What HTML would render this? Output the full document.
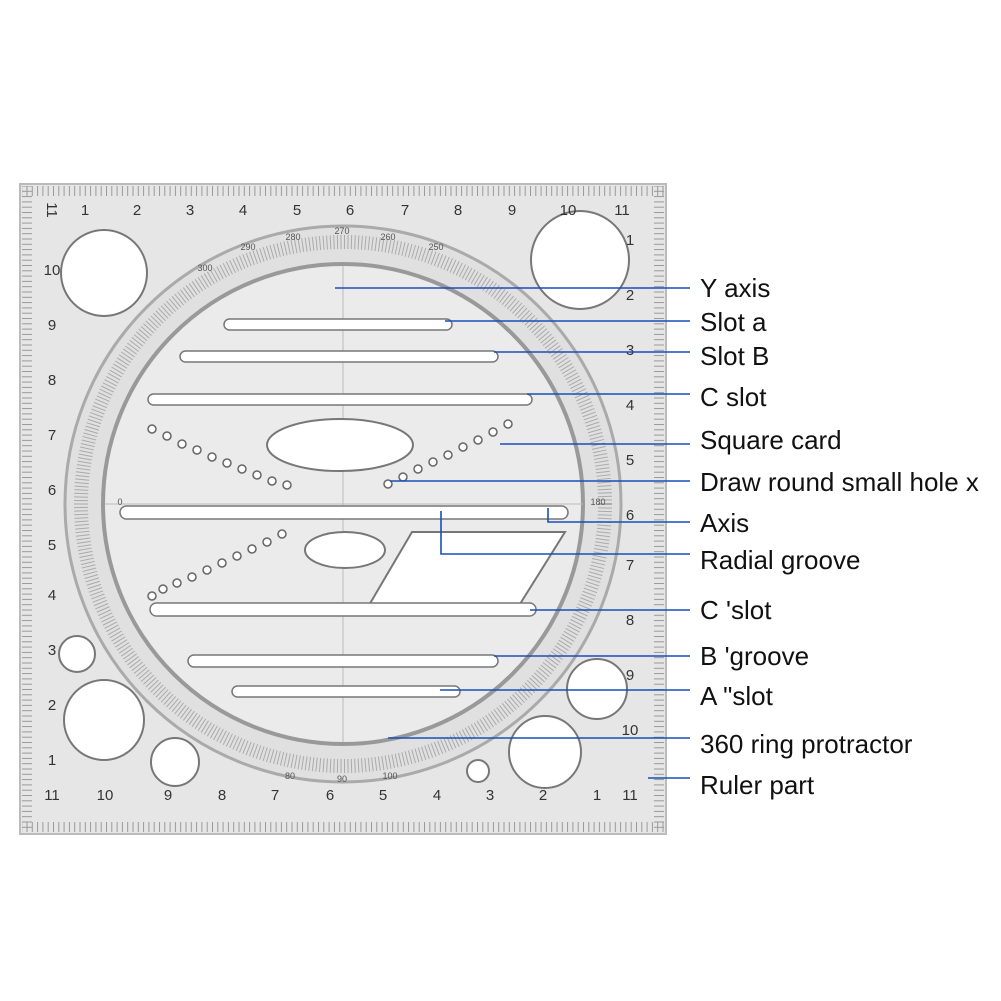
<!DOCTYPE html>
<html><head><meta charset="utf-8"><style>
html,body{margin:0;padding:0;background:#fff;}
svg{display:block;}
.l{font-family:"Liberation Sans",sans-serif;font-size:26px;fill:#111;}
.n{font-family:"Liberation Sans",sans-serif;font-size:15px;fill:#333;text-anchor:middle;}
.s{font-family:"Liberation Sans",sans-serif;font-size:9px;fill:#555;text-anchor:middle;}
</style></head><body>
<svg width="1001" height="1001" viewBox="0 0 1001 1001" xmlns="http://www.w3.org/2000/svg">
<defs>
<pattern id="tk" width="5.3" height="10" patternUnits="userSpaceOnUse"><rect x="0" y="0" width="1" height="10" fill="#999"/></pattern>
<pattern id="tkv" width="10" height="5.3" patternUnits="userSpaceOnUse"><rect x="0" y="0" width="10" height="1" fill="#999"/></pattern>
</defs>
<rect x="20" y="184" width="646" height="650" fill="#e6e6e6" stroke="#bbb" stroke-width="2"/>
<rect x="22" y="186" width="642" height="10" fill="url(#tk)"/>
<rect x="22" y="822" width="642" height="10" fill="url(#tk)"/>
<rect x="22" y="186" width="10" height="646" fill="url(#tkv)"/>
<rect x="654" y="186" width="10" height="646" fill="url(#tkv)"/>
<circle cx="343" cy="504" r="278" fill="#e0e0e0" stroke="#aaa" stroke-width="3"/>
<circle cx="343" cy="504" r="262" fill="none" stroke="#aaa" stroke-width="14" stroke-dasharray="1 2.5"/>
<circle cx="343" cy="504" r="240" fill="#ebebeb" stroke="#999" stroke-width="4"/>
<line x1="343" y1="266" x2="343" y2="742" stroke="#bbb"/>
<line x1="105" y1="504" x2="583" y2="504" stroke="#bbb"/>
<g fill="#fff" stroke="#777" stroke-width="2">
<circle cx="104" cy="273" r="43"/>
<circle cx="580" cy="260" r="49"/>
<circle cx="104" cy="720" r="40"/>
<circle cx="77" cy="654" r="18"/>
<circle cx="175" cy="762" r="24"/>
<circle cx="545" cy="752" r="36"/>
<circle cx="597" cy="689" r="30"/>
<circle cx="478" cy="771" r="11"/>
<ellipse cx="340" cy="445" rx="73" ry="26"/>
<ellipse cx="345" cy="550" rx="40" ry="18"/>
<polygon points="365,612 412,532 565,532 515,612"/>
</g>
<g fill="#fff" stroke="#777" stroke-width="1.5">
<rect x="224" y="319" width="228" height="11" rx="5.5"/>
<rect x="180" y="351" width="318" height="11" rx="5.5"/>
<rect x="148" y="394" width="384" height="11" rx="5.5"/>
<rect x="120" y="506" width="448" height="13" rx="6.5"/>
<rect x="150" y="603" width="386" height="13" rx="6.5"/>
<rect x="188" y="655" width="310" height="12" rx="6"/>
<rect x="232" y="686" width="228" height="11" rx="5.5"/>
</g>
<g fill="#fff" stroke="#666" stroke-width="1.5">
<circle cx="152" cy="429" r="4"/><circle cx="167" cy="436" r="4"/><circle cx="182" cy="444" r="4"/><circle cx="197" cy="450" r="4"/><circle cx="212" cy="457" r="4"/><circle cx="227" cy="463" r="4"/><circle cx="242" cy="469" r="4"/><circle cx="257" cy="475" r="4"/><circle cx="272" cy="481" r="4"/><circle cx="287" cy="485" r="4"/>
<circle cx="388" cy="484" r="4"/><circle cx="403" cy="477" r="4"/><circle cx="418" cy="469" r="4"/><circle cx="433" cy="462" r="4"/><circle cx="448" cy="455" r="4"/><circle cx="463" cy="447" r="4"/><circle cx="478" cy="440" r="4"/><circle cx="493" cy="432" r="4"/><circle cx="508" cy="424" r="4"/>
<circle cx="282" cy="534" r="4"/><circle cx="267" cy="542" r="4"/><circle cx="252" cy="549" r="4"/><circle cx="237" cy="556" r="4"/><circle cx="222" cy="563" r="4"/><circle cx="207" cy="570" r="4"/><circle cx="192" cy="577" r="4"/><circle cx="177" cy="583" r="4"/><circle cx="163" cy="589" r="4"/><circle cx="152" cy="596" r="4"/>
</g>
<g class="n">
<text x="52" y="215" transform="rotate(90 52 210)">11</text>
<text x="85" y="215">1</text><text x="137" y="215">2</text><text x="190" y="215">3</text><text x="243" y="215">4</text><text x="297" y="215">5</text><text x="350" y="215">6</text><text x="405" y="215">7</text><text x="458" y="215">8</text><text x="512" y="215">9</text><text x="568" y="215">10</text><text x="622" y="215">11</text>
<text x="52" y="800">11</text><text x="105" y="800">10</text><text x="168" y="800">9</text><text x="222" y="800">8</text><text x="275" y="800">7</text><text x="330" y="800">6</text><text x="383" y="800">5</text><text x="437" y="800">4</text><text x="490" y="800">3</text><text x="543" y="800">2</text><text x="597" y="800">1</text><text x="630" y="800">11</text>
<text x="52" y="275">10</text><text x="52" y="330">9</text><text x="52" y="385">8</text><text x="52" y="440">7</text><text x="52" y="495">6</text><text x="52" y="550">5</text><text x="52" y="600">4</text><text x="52" y="655">3</text><text x="52" y="710">2</text><text x="52" y="765">1</text>
<text x="630" y="245">1</text><text x="630" y="300">2</text><text x="630" y="355">3</text><text x="630" y="410">4</text><text x="630" y="465">5</text><text x="630" y="520">6</text><text x="630" y="570">7</text><text x="630" y="625">8</text><text x="630" y="680">9</text><text x="630" y="735">10</text>
</g>
<g class="s">
<text x="342" y="234">270</text><text x="293" y="240">280</text><text x="388" y="240">260</text><text x="436" y="250">250</text><text x="248" y="250">290</text><text x="205" y="271">300</text><text x="120" y="505">0</text><text x="598" y="505">180</text><text x="342" y="782">90</text><text x="390" y="779">100</text><text x="290" y="779">80</text>
</g>
<g stroke="#1a4fb5" stroke-width="1.6" fill="none">
<line x1="335" y1="288" x2="690" y2="288"/>
<line x1="445" y1="321" x2="690" y2="321"/>
<line x1="494" y1="352" x2="690" y2="352"/>
<line x1="527" y1="394" x2="690" y2="394"/>
<line x1="500" y1="444" x2="690" y2="444"/>
<line x1="390" y1="481" x2="690" y2="481"/>
<polyline points="548,508 548,522 690,522"/>
<polyline points="441,511 441,554 690,554"/>
<line x1="530" y1="610" x2="690" y2="610"/>
<line x1="494" y1="656" x2="690" y2="656"/>
<line x1="440" y1="690" x2="690" y2="690"/>
<line x1="388" y1="738" x2="690" y2="738"/>
<line x1="648" y1="778" x2="690" y2="778"/>
</g>
<g class="l">
<text x="700" y="297">Y axis</text>
<text x="700" y="331">Slot a</text>
<text x="700" y="365">Slot B</text>
<text x="700" y="406">C slot</text>
<text x="700" y="449">Square card</text>
<text x="700" y="491">Draw round small hole x</text>
<text x="700" y="532">Axis</text>
<text x="700" y="569">Radial groove</text>
<text x="700" y="619">C 'slot</text>
<text x="700" y="665">B 'groove</text>
<text x="700" y="705">A "slot</text>
<text x="700" y="753">360 ring protractor</text>
<text x="700" y="794">Ruler part</text>
</g>
</svg>
</body></html>
